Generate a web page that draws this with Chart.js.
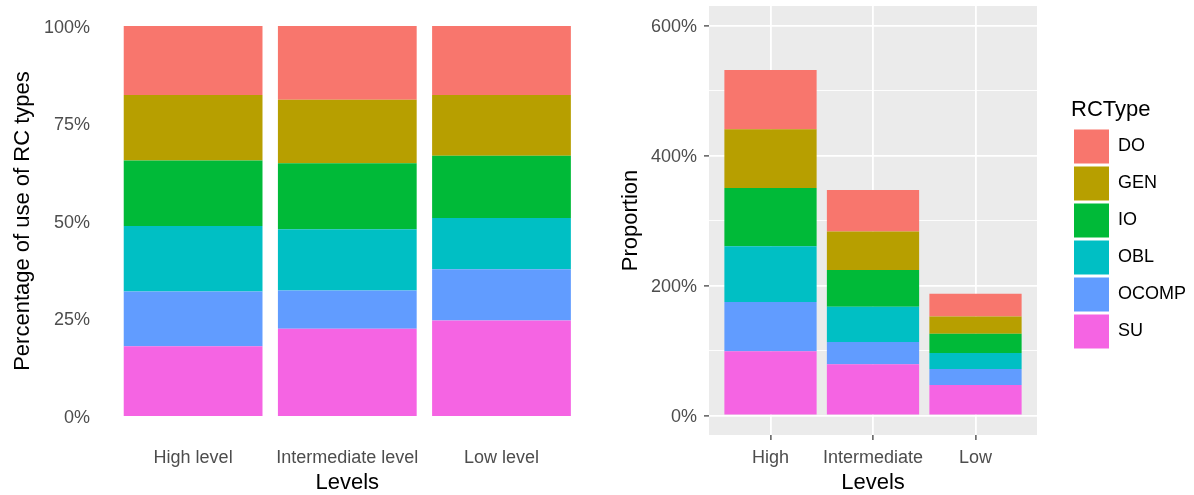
<!DOCTYPE html>
<html>
<head>
<meta charset="utf-8">
<script src="https://cdn.jsdelivr.net/npm/chart.js@4.4.1/dist/chart.umd.min.js"></script>
<style>
  body { margin: 0; background: #fff; }
  #left { position: absolute; left: 0; top: 0; }
  #right { position: absolute; left: 600px; top: 0; }
</style>
</head>
<body>
<canvas id="left" width="600" height="495"></canvas>
<canvas id="right" width="594" height="495"></canvas>
<script>
// stacking order: first one sits at the bottom
const rcTypes  = ['SU', 'OCOMP', 'OBL', 'IO', 'GEN', 'DO'];
const rcColors = ['#F564E3', '#619CFF', '#00BFC4', '#00BA38', '#B79F00', '#F8766D'];

const levelsLeft  = ['High level', 'Intermediate level', 'Low level'];
const levelsRight = ['High', 'Intermediate', 'Low'];

// left panel: percentage of use of each RC type per level
const pctSU    = [17.9, 22.4, 24.5];
const pctOCOMP = [14.0,  9.8, 13.1];
const pctOBL   = [16.8, 15.7, 13.2];
const pctIO    = [16.8, 16.9, 15.9];
const pctGEN   = [16.8, 16.3, 15.6];
const pctDO    = [17.7, 18.9, 17.7];

// right panel: summed proportions (%)
const propSU    = [98.8, 78.9, 47.1];
const propOCOMP = [75.7, 34.2, 24.6];
const propOBL   = [85.9, 54.2, 24.5];
const propIO    = [89.5, 56.7, 29.6];
const propGEN   = [90.5, 59.0, 26.7];
const propDO    = [91.1, 63.8, 34.7];

const pctTicks  = [0, 25, 50, 75, 100];
const propTicks = [0, 100, 200, 300, 400, 500, 600];
const propMajor = [0, 200, 400, 600];

Chart.defaults.font.family = "'Liberation Sans', Arial, sans-serif";
Chart.defaults.animation = false;

const tickFont  = {size: 18};
const titleFont = {size: 22, lineHeight: 1};
const tickGrey  = '#4D4D4D';

const panelBg = {
  id: 'panelBg',
  beforeDraw(chart, args, opts) {
    if (!opts.color) return;
    const {ctx, chartArea: a} = chart;
    ctx.save();
    ctx.fillStyle = opts.color;
    ctx.fillRect(a.left, a.top, a.right - a.left, a.bottom - a.top);
    ctx.restore();
  }
};

function makeSets(series) {
  return series.map((vals, i) => ({
    label: rcTypes[i],
    data: vals.map((v, j) => ({x: j, y: v})),
    backgroundColor: rcColors[i],
    borderWidth: 0,
    categoryPercentage: 1,
    barPercentage: 0.9
  }));
}

function setTicks(list) {
  return scale => { scale.ticks = list.map(v => ({value: v})); };
}

// fixed axis box, no extra label overhang padding
function fixSize(w, h) {
  return s => {
    if (w != null) s.width = w;
    if (h != null) s.height = h;
    s.paddingTop = s.paddingBottom = s.paddingLeft = s.paddingRight = 0;
  };
}

// ---- left: 100% stacked ----
new Chart(document.getElementById('left'), {
  type: 'bar',
  data: {datasets: makeSets([pctSU, pctOCOMP, pctOBL, pctIO, pctGEN, pctDO])},
  plugins: [panelBg],
  options: {
    responsive: false,
    events: [],
    layout: {padding: {top: 6.5, right: 6, left: 0, bottom: 0}},
    plugins: {legend: {display: false}, tooltip: {enabled: false}},
    scales: {
      x: {
        type: 'linear', stacked: true, min: -0.6, max: 2.6, offset: false,
        afterBuildTicks: setTicks([0, 1, 2]),
        afterFit: fixSize(null, 59.5),
        grid: {display: false, drawTicks: false, offset: false},
        border: {display: false},
        ticks: {padding: 12, maxRotation: 0, autoSkip: false, font: tickFont, color: tickGrey, callback: v => levelsLeft[v]},
        title: {display: true, text: 'Levels', font: titleFont, color: '#000', padding: {bottom: 1}}
      },
      y: {
        stacked: true, min: -5, max: 105,
        afterBuildTicks: setTicks(pctTicks),
        afterFit: fixSize(100.6, null),
        grid: {display: false, drawTicks: false},
        border: {display: false},
        ticks: {padding: 10.6, labelOffset: 2, font: tickFont, color: tickGrey, callback: v => v + '%'},
        title: {display: true, text: 'Percentage of use of RC types', font: titleFont, color: '#000', padding: {top: 12}}
      }
    }
  }
});

// ---- right: stacked proportions ----
new Chart(document.getElementById('right'), {
  type: 'bar',
  data: {datasets: makeSets([propSU, propOCOMP, propOBL, propIO, propGEN, propDO])},
  plugins: [panelBg],
  options: {
    responsive: false,
    events: [],
    layout: {padding: {top: 6, right: 0, left: 0, bottom: 0}},
    plugins: {
      panelBg: {color: '#EBEBEB'},
      tooltip: {enabled: false},
      legend: {
        position: 'right',
        align: 'start',
        reverse: true,
        maxWidth: 123,
        title: {display: true, position: 'start', text: 'RCType', font: {size: 22}, color: '#000', padding: {top: 93, bottom: 1}},
        labels: {boxWidth: 35, boxHeight: 34, padding: 3, font: {size: 18}, color: '#000'}
      }
    },
    scales: {
      x: {
        type: 'linear', stacked: true, min: -0.6, max: 2.6, offset: false,
        afterBuildTicks: setTicks([0, 1, 2]),
        afterFit: fixSize(null, 60),
        grid: {color: '#FFFFFF', lineWidth: 1.8, offset: false, tickColor: '#333333', tickLength: 5, tickWidth: 1.2},
        border: {display: false},
        ticks: {padding: 7, maxRotation: 0, autoSkip: false, font: tickFont, color: tickGrey, callback: v => levelsRight[v]},
        title: {display: true, text: 'Levels', font: titleFont, color: '#000', padding: {bottom: 1}}
      },
      y: {
        stacked: true, min: -30, max: 630,
        afterBuildTicks: setTicks(propTicks),
        afterFit: fixSize(109, null),
        grid: {
          color: '#FFFFFF',
          lineWidth: c => propMajor.includes(c.tick.value) ? 1.8 : 0.9,
          tickColor: c => propMajor.includes(c.tick.value) ? '#333333' : 'rgba(0,0,0,0)',
          tickLength: 5, tickWidth: 1.2
        },
        border: {display: false},
        ticks: {padding: 7, labelOffset: 2, font: tickFont, color: tickGrey,
                callback: v => propMajor.includes(v) ? v + '%' : ''},
        title: {display: true, text: 'Proportion', font: titleFont, color: '#000', padding: {top: 19.5}}
      },
      gap: {
        type: 'linear', position: 'right', display: true,
        afterFit: fixSize(34, null),
        grid: {display: false, drawTicks: false},
        border: {display: false},
        ticks: {display: false}
      }
    }
  }
});
</script>
</body>
</html>
